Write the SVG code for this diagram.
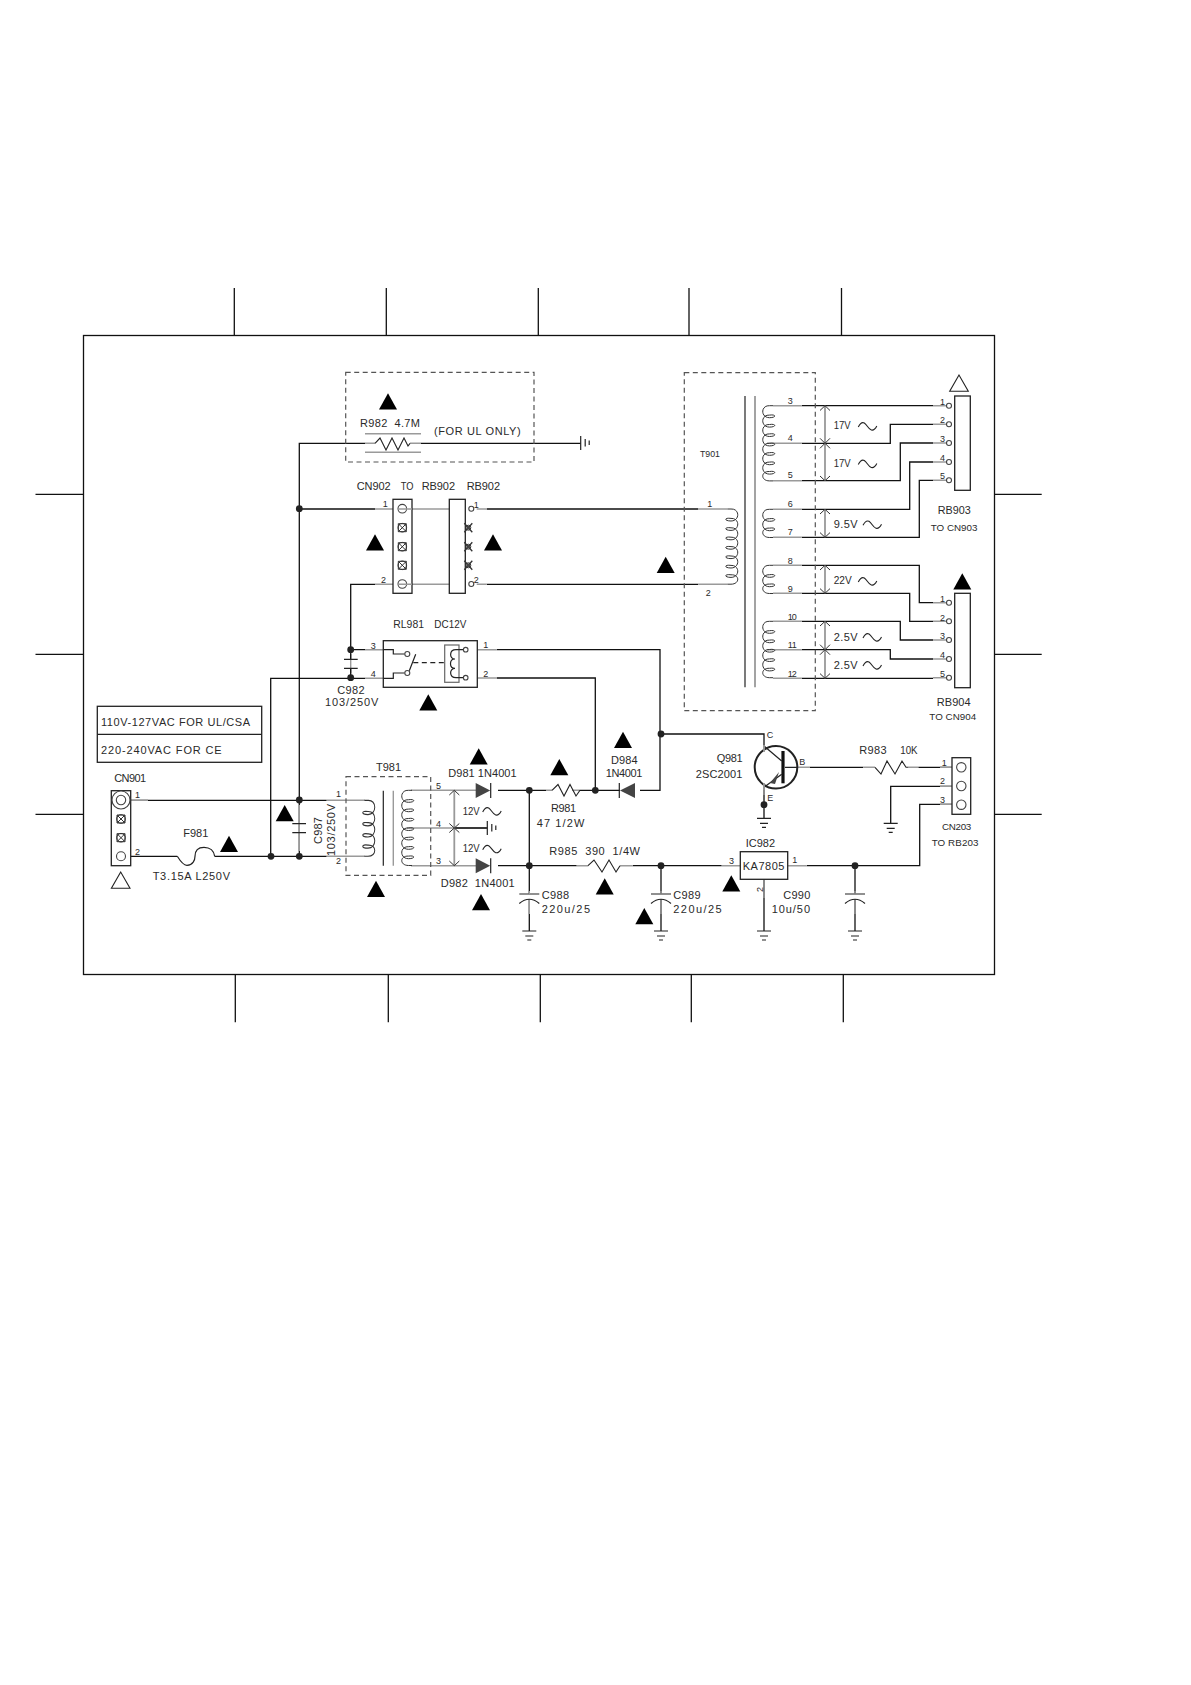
<svg xmlns="http://www.w3.org/2000/svg" width="1191" height="1685" viewBox="0 0 1191 1685">
<style>
text{font-family:"Liberation Sans",Arial,sans-serif;font-size:11px;fill:#2a2a2a;white-space:pre}
.s{font-size:9px}
.m{font-size:9.8px}
.w{fill:none;stroke:#111;stroke-width:1.3}
.g{fill:none;stroke:#9a9a9a;stroke-width:1.4}
.v{fill:none;stroke:#999;stroke-width:1.8}
.d{fill:none;stroke:#555;stroke-width:1.2;stroke-dasharray:5 3.5}
.b{fill:#fff;stroke:#222;stroke-width:1.3}
.n{fill:none;stroke:#222;stroke-width:1.2}
.c{fill:none;stroke:#333;stroke-width:1}
.x{fill:#fff;stroke:#444;stroke-width:1.1}
.j{fill:#222}
.tri{fill:#000}
.o{fill:none;stroke:#222;stroke-width:1.1}
</style>
<defs>
<polygon id="tri" class="tri" points="0,0 -9,16.3 9,16.3"/>
<polygon id="tro" fill="#fff" stroke="#222" stroke-width="1.1" points="0,0 -9.3,16.3 9.3,16.3"/>
<circle id="j" class="j" r="3.4"/>
<g id="gnd" class="n"><path d="M-7 0H7M-4 5H4M-2 9H2"/></g>
<g id="gr" class="n"><path d="M0 -7V7M4.5 -4V3.5M8.5 -2.5V2"/></g>
<path id="ac" class="o" d="M0 2C2 -2 4 -3 6 -2C9 0 10 4 13 5C15 5.500 17 4 18.500 1"/>
<g id="crs"><circle class="c" r="4.300"/><path class="c" d="M-3.800 -3.800L3.800 3.800M3.800 -3.800L-3.800 3.800M-4 -4H4V4H-4Z"/></g>
<g id="sx"><circle class="c" r="2.500"/><path d="M-4 -4.500L4 4.500M4 -4.500L-4 4.500" fill="none" stroke="#333" stroke-width="1.300"/><circle r="1.800" fill="#444"/></g>
<circle id="pin" class="x" r="2.500"/>
<polygon id="dio" fill="#444" points="0,-7.500 0,7.500 14.500,0"/>
<g id="cap"><path class="w" d="M0 5V37"/><path class="g" d="M0 5V20"/><path class="n" d="M-10 0H10M-10 9.500Q0 1 10 9.500"/><path class="g" d="M0 0V-3"/><use href="#gnd" y="37"/></g>
<path id="c3" class="c" d="M5.500 0H2c-9,-.5 -9,12 0,12c7,0 7,-3.600 0,-2.600c-9,-.5 -9,12 0,12c7,0 7,-3.600 0,-2.600c-9,-.5 -9,9.400 0,9.400h3.500"/>
<path id="c5" class="c" d="M5.500 0H2c-9,-.5 -9,12 0,12c7,0 7,-3.600 0,-2.600c-9,-.5 -9,12 0,12c7,0 7,-3.600 0,-2.600c-9,-.5 -9,12 0,12c7,0 7,-3.600 0,-2.600c-9,-.5 -9,12 0,12c7,0 7,-3.600 0,-2.600c-9,-.5 -9,9.400 0,9.400h3.500"/>
<path id="c6" class="c" d="M5.500 0H2c-9,-.5 -9,12 0,12c7,0 7,-3.600 0,-2.600c-9,-.5 -9,12 0,12c7,0 7,-3.600 0,-2.600c-9,-.5 -9,12 0,12c7,0 7,-3.600 0,-2.600c-9,-.5 -9,12 0,12c7,0 7,-3.600 0,-2.600c-9,-.5 -9,12 0,12c7,0 7,-3.600 0,-2.600c-9,-.5 -9,9.400 0,9.400h3.500"/>
<path id="c8" class="c" d="M5.500 0H2c-9,-.5 -9,12 0,12c7,0 7,-3.600 0,-2.600c-9,-.5 -9,12 0,12c7,0 7,-3.600 0,-2.600c-9,-.5 -9,12 0,12c7,0 7,-3.600 0,-2.600c-9,-.5 -9,12 0,12c7,0 7,-3.600 0,-2.600c-9,-.5 -9,12 0,12c7,0 7,-3.600 0,-2.600c-9,-.5 -9,12 0,12c7,0 7,-3.600 0,-2.600c-9,-.5 -9,12 0,12c7,0 7,-3.600 0,-2.600c-9,-.5 -9,9.400 0,9.400h3.500"/>
</defs>

<g id="frame">
<rect x="83.500" y="335.500" width="911" height="639" fill="none" stroke="#111" stroke-width="1.300"/>
<path class="w" d="M234.300 288V335M386.300 288V335M538.300 288V335M689 288V335M841.500 288V335M235.300 974V1022.300M388.300 974V1022.300M540.300 974V1022.300M691.300 974V1022.300M843.300 974V1022.300M35.500 494.300H83M35.500 654.300H83M35.500 814.300H83M994 494.300H1041.700M994 654.300H1041.700M994 814.300H1041.700"/>
</g>

<g id="connectors">
<path class="w" d="M365 443.300H299.300V856.300M421 443.300H580.700"/>
<path class="w" d="M299.300 509H375M486.700 509H698.300M350.700 649.700V584.300H375M486.700 584.300H698.300"/>
<path class="w" d="M130.700 800.300H326.700M130.700 856.300H177.300M214.700 856.300H326.700M270.700 856.300V678.300H365"/>
<path class="w" d="M350.700 649.700H365M496.700 649.700H660V790.300H640M496.700 678H595.300V790.300M661 734H764V746"/>
<path class="w" d="M529.300 790.300V894M498 790.300H529.300H546M579.300 790.300H620M529.300 865.700H576.700M632.700 865.700H721.700M498 865.700H529.300M806.700 865.700H919.700V804.300H952M810 767.300H863.300M918.300 767.300H952M952 786.300H890.700V823.300"/>
<path class="w" d="M661 865.700V894M855 865.700V894M764 787.300V818.300M764 879.300V931"/>
<path class="w" d="M801.700 405.700H933M801.700 443.300H890.300V424.300H933M801.700 480.700H900.300V443H933M801.700 509.300H909.700V462H933M801.700 537.300H919.300V480.300H933M801.700 565.300H919.300V602.700H933M801.700 593.300H909.700V621.300H933M801.700 621.300H900.300V640H933M801.700 649.700H890.300V659H933M801.700 678.300H933"/>
<path class="g" d="M375 509H393M412 509H458.700M476.700 509H486.700M375 584.300H393M412 584.300H458.700M476.700 584.300H486.700M698.300 509H727.500M698.300 584.300H727.500M130.700 800.300H148M365 649.700H383.300M365 678.300H383.300M477.300 649.700H496.700M477.300 678H496.700M326.700 800.300H365M326.700 856.300H365M350.700 654V673M299.300 805V851M764 746V752M764 783V795M785 767.300H810M863.300 767.300H875M908.300 767.300H918.300M940 767.300H952M940 786.300H952M940 804.300H952M576.700 865.700H588.300M620 865.700H632.700M721.700 865.700H740M787.700 865.700H806.700M764 879.300H764V898M365 443.300H375M410 443.300H421M546 790.300H552M572 790.300H579.300"/>
<path class="g" d="M773 405.700H801.700M767 443.300H801.700M773 480.700H801.700M773 509.300H801.700M773 537.300H801.700M773 565.300H801.700M773 593.300H801.700M773 621.300H801.700M767 649.700H801.700M773 678.300H801.700M933 405.700H946.500M933 424.300H946.500M933 443H946.500M933 462H946.500M933 480.300H946.500M933 602.700H946.500M933 621.300H946.500M933 640H946.500M933 659H946.500M933 677.700H946.500"/>
<path class="g" d="M411 790.300H476M411 865.700H476M407 828H486.700"/>
<path class="w" d="M454.300 828H487.300"/>
<path class="w" d="M350.700 659V649.700M350.700 668.300V678"/>
</g>

<g id="R982">
<rect class="d" x="345.700" y="372.300" width="188.300" height="89.700"/>
<use href="#tri" x="388" y="393.300"/>
<text x="360" y="427" textLength="60">R982  4.7M</text>
<text x="434" y="434.700" textLength="86.700">(FOR UL ONLY)</text>
<path class="g" d="M365 433.700H421M365 452.300H421"/>
<path class="o" d="M375 443.300L380 438L386 450L392 438L398 450L404 438L408 446L410 443.300"/>
<use href="#gr" x="580.700" y="443"/>
</g>

<g id="CN902">
<text x="356.700" y="490" textLength="34">CN902</text>
<text x="400.700" y="490" textLength="12.700" lengthAdjust="spacingAndGlyphs">TO</text>
<text x="421.700" y="490" textLength="33.300">RB902</text>
<rect class="b" x="393" y="499.300" width="19" height="94"/>
<circle class="x" cx="402.300" cy="508.700" r="4.300"/>
<use href="#crs" x="402.300" y="527.700"/><use href="#crs" x="402.300" y="546.700"/><use href="#crs" x="402.300" y="565.300"/>
<circle class="x" cx="402.300" cy="584" r="4.300"/>
<path class="g" d="M398 509H412M398 584.300H412"/>
<text class="s" x="382.700" y="507">1</text>
<text class="s" x="381" y="582.700">2</text>
<use href="#tri" x="375" y="534.300"/>
</g>

<g id="RB902">
<text x="466.700" y="490" textLength="33.300">RB902</text>
<rect class="b" x="449.300" y="499.300" width="16" height="94"/>
<use href="#pin" x="471.300" y="508.700"/><use href="#pin" x="471.300" y="584"/>
<use href="#sx" x="468.300" y="527.700"/><use href="#sx" x="468.300" y="546.700"/><use href="#sx" x="468.300" y="565.300"/>
<text class="s" x="473.700" y="508">1</text>
<text class="s" x="473.700" y="582.700">2</text>
<use href="#tri" x="493" y="534.300"/>
</g>

<g id="T901">
<rect class="d" x="684.300" y="372.700" width="131" height="338"/>
<text class="m" x="700" y="456.700" textLength="20" lengthAdjust="spacingAndGlyphs">T901</text>
<path class="n" d="M745 396V687.300"/><path class="v" d="M755 396V687.300"/>
<use href="#tri" x="665.700" y="556.700"/>
<use href="#c8" transform="translate(733 509) scale(-1 1)"/>
<use href="#c8" x="767.500" y="405.700"/>
<use href="#c3" x="767.500" y="509.300"/><use href="#c3" x="767.500" y="565.300"/>
<use href="#c6" x="767.500" y="621.300"/>
<text class="s" x="707.300" y="507.300">1</text><text class="s" x="705.700" y="595.700">2</text>
<text class="s" x="787.700" y="403.700">3</text><text class="s" x="787.700" y="441">4</text><text class="s" x="787.700" y="478.300">5</text><text class="s" x="787.700" y="507.300">6</text><text class="s" x="787.700" y="535.300">7</text><text class="s" x="787.700" y="563.700">8</text><text class="s" x="787.700" y="591.700">9</text><text class="s" x="787.700" y="620" textLength="9">10</text><text class="s" x="787.700" y="648" textLength="9">11</text><text class="s" x="787.700" y="676.700" textLength="9">12</text>
<path class="v" d="M825 405.700V480.700M825 509.300V537.300M825 565.300V593.300M825 621.300V678.300"/>
<path class="c" d="M820 410.500L825 405.700L830 410.500M820 438.300L830 448.300M830 438.300L820 448.300M820 476L825 480.700L830 476M820 514L825 509.300L830 514M820 532.600L825 537.300L830 532.600M820 570L825 565.300L830 570M820 588.600L825 593.300L830 588.600M820 626L825 621.300L830 626M820 644.700L830 654.700M830 644.700L820 654.700M820 673.600L825 678.300L830 673.600"/>
<text x="833.700" y="429.300" textLength="17" lengthAdjust="spacingAndGlyphs">17V</text><use href="#ac" x="858.300" y="425"/>
<text x="833.700" y="466.700" textLength="17" lengthAdjust="spacingAndGlyphs">17V</text><use href="#ac" x="858.300" y="462.500"/>
<text x="833.700" y="528.300" textLength="24">9.5V</text><use href="#ac" x="863" y="523.300"/>
<text x="833.700" y="584.300" textLength="18" lengthAdjust="spacingAndGlyphs">22V</text><use href="#ac" x="858.300" y="580"/>
<text x="833.700" y="641" textLength="24">2.5V</text><use href="#ac" x="863" y="636"/>
<text x="833.700" y="669" textLength="24">2.5V</text><use href="#ac" x="863" y="664"/>
</g>

<g id="RB903">
<use href="#tro" x="959" y="375"/>
<rect class="b" x="954.700" y="396" width="15.600" height="94.300"/>
<use href="#pin" x="949" y="405.700"/><use href="#pin" x="949" y="424.300"/><use href="#pin" x="949" y="443"/><use href="#pin" x="949" y="462"/><use href="#pin" x="949" y="480.300"/>
<text class="s" x="940" y="405">1</text><text class="s" x="940" y="423.300">2</text><text class="s" x="940" y="442">3</text><text class="s" x="940" y="460.700">4</text><text class="s" x="940" y="479.300">5</text>
<text x="937.700" y="514" textLength="33" lengthAdjust="spacingAndGlyphs">RB903</text>
<text class="m" x="930.700" y="531" textLength="46.700">TO CN903</text>
</g>

<g id="RB904">
<use href="#tri" x="962.300" y="573.300"/>
<rect class="b" x="954.700" y="593.300" width="15.600" height="94.400"/>
<use href="#pin" x="949" y="602.700"/><use href="#pin" x="949" y="621.300"/><use href="#pin" x="949" y="640"/><use href="#pin" x="949" y="659"/><use href="#pin" x="949" y="677.700"/>
<text class="s" x="940" y="601.700">1</text><text class="s" x="940" y="620.700">2</text><text class="s" x="940" y="639.300">3</text><text class="s" x="940" y="658.300">4</text><text class="s" x="940" y="676.700">5</text>
<text x="936.700" y="705.700" textLength="34">RB904</text>
<text class="m" x="929.300" y="720" textLength="47">TO CN904</text>
</g>

<g id="RL981">
<text x="393.300" y="628.300" textLength="30.700" lengthAdjust="spacingAndGlyphs">RL981</text>
<text x="434.300" y="628.300" textLength="32" lengthAdjust="spacingAndGlyphs">DC12V</text>
<rect class="b" x="383.300" y="640.700" width="94" height="46.600"/>
<path class="n" d="M383.300 649.700H393.300V654H404.700M383.300 678.300H393.300V673H404.700M409.300 670.700L415.700 654.300"/>
<circle class="x" cx="407.300" cy="654" r="2.500"/><circle class="x" cx="407.300" cy="673" r="2.500"/>
<path class="n" stroke-dasharray="5 3.500" d="M413.300 662.700H445"/>
<rect x="444.700" y="645" width="14.300" height="37.300" fill="none" stroke="#666" stroke-width="1.200"/>
<path class="n" d="M463.200 649.700H456C449 649.700 449 659 455 659C449 659 449 668.400 455 668.400C449 668.400 449 677.700 456 677.700H463.200"/>
<circle class="x" cx="465.700" cy="649.700" r="2.300"/><circle class="x" cx="465.700" cy="677.700" r="2.300"/>
<text class="s" x="370.700" y="648.700">3</text><text class="s" x="370.700" y="676.700">4</text>
<text class="s" x="483.300" y="648.300">1</text><text class="s" x="483.300" y="676.700">2</text>
<use href="#tri" x="428.300" y="694.300"/>
</g>

<g id="C982">
<path class="n" d="M344 659.300H357.700M344 668.300H357.700"/>
<use href="#j" x="350.700" y="649.700"/><use href="#j" x="350.700" y="677.700"/>
<text x="337.300" y="694" textLength="27.300">C982</text>
<text x="325" y="706" textLength="53.300">103/250V</text>
</g>

<g id="legend">
<rect class="b" x="97.300" y="706.300" width="164.400" height="56"/>
<path class="n" d="M97.300 734.300H261.700"/>
<text x="101" y="725.700" textLength="149">110V-127VAC FOR UL/CSA</text>
<text x="101" y="754" textLength="120.700">220-240VAC FOR CE</text>
</g>

<g id="CN901">
<text x="114.300" y="782.300" textLength="31.700">CN901</text>
<rect class="b" x="111.300" y="790.700" width="19.400" height="75"/>
<circle class="x" cx="121" cy="800" r="9"/><circle class="x" cx="121" cy="800" r="4.700"/>
<use href="#crs" x="121" y="819"/><use href="#crs" x="121" y="837.700"/>
<circle class="x" cx="121" cy="856.300" r="4.500"/>
<use href="#tro" x="120.700" y="872"/>
<text class="s" x="135" y="798.300">1</text><text class="s" x="135" y="854.700">2</text>
</g>

<g id="F981">
<path class="n" d="M177.300 856.300Q183 865.500 187 865.300C193 865 195 860 195 856.300C195 850 199 847.300 204 847.300C210 847.300 214 851 214.700 856.300"/>
<text x="183.300" y="836.700" textLength="25">F981</text>
<text x="152.700" y="880" textLength="77.300">T3.15A L250V</text>
<use href="#tri" x="229" y="835.700"/>
</g>

<g id="C987">
<path class="n" d="M292.300 823.700H306M292.300 832.700H306"/>
<use href="#j" x="271" y="856.300"/><use href="#j" x="299.300" y="856.300"/><use href="#j" x="299.300" y="800"/><use href="#j" x="299.300" y="508.700"/>
<use href="#tri" x="284.700" y="805"/>
<text transform="translate(322 844) rotate(-90)" textLength="27">C987</text>
<text transform="translate(335 856) rotate(-90)" textLength="52">103/250V</text>
</g>

<g id="T981">
<rect class="d" x="346" y="776.700" width="84.700" height="98.600"/>
<text x="376" y="771.300" textLength="25">T981</text>
<path class="n" d="M383.300 790.700V865.700"/><path class="g" d="M393.300 790.700V865.700"/>
<use href="#c5" transform="translate(370 800.300) scale(-1 1.191)"/>
<use href="#c8" x="406.500" y="790.300"/>
<text class="s" x="336" y="796.700">1</text><text class="s" x="336" y="864">2</text>
<text class="s" x="436" y="789">5</text><text class="s" x="436" y="826.700">4</text><text class="s" x="436" y="864">3</text>
<path class="v" d="M454.300 790.300V865.700"/>
<path class="c" d="M449.300 795L454.300 790.300L459.300 795M449.300 823.500L454.300 828L459.300 823.500M449.300 832.500L454.300 828L459.300 832.500M449.300 861L454.300 865.700L459.300 861"/>
<text x="462.700" y="814.700" textLength="17" lengthAdjust="spacingAndGlyphs">12V</text><use href="#ac" x="482.700" y="810"/>
<text x="462.700" y="852.300" textLength="17" lengthAdjust="spacingAndGlyphs">12V</text><use href="#ac" x="482.700" y="847.700"/>
<use href="#gr" x="487.300" y="828"/>
<use href="#tri" x="376" y="880.700"/>
</g>

<g id="D981">
<use href="#dio" x="475.700" y="790.500"/><path class="n" d="M490.700 783V798"/>
<text x="448.300" y="776.700" textLength="68.300">D981 1N4001</text>
<use href="#tri" x="478.700" y="748.300"/>
</g>
<g id="D982">
<use href="#dio" x="475.700" y="865.700"/><path class="n" d="M490.700 858.200V873.200"/>
<text x="440.700" y="886.700" textLength="74">D982  1N4001</text>
<use href="#tri" x="481" y="894"/>
</g>

<g id="R981">
<path class="o" d="M552 790.300L558 784.500L564 796L570 784.500L576 796L580 790.300"/>
<use href="#j" x="529.300" y="790.300"/><use href="#j" x="595.300" y="790.300"/>
<text x="551" y="811.700" textLength="25">R981</text>
<text x="536.700" y="826.700" textLength="47.600">47 1/2W</text>
<use href="#tri" x="559.300" y="759"/>
</g>

<g id="D984">
<polygon fill="#444" points="635,783 635,798 620,790.500"/><path class="n" d="M619.300 783V798"/>
<use href="#j" x="661" y="734"/>
<text x="611" y="764" textLength="26.700">D984</text>
<text x="605.700" y="777.300" textLength="36.700">1N4001</text>
<use href="#tri" x="623" y="731.700"/>
</g>

<g id="Q981">
<circle cx="776" cy="767.300" r="21.300" fill="#fff" stroke="#222" stroke-width="2"/>
<path d="M783 751V783.300" fill="none" stroke="#111" stroke-width="3.200"/>
<path class="n" d="M764 746L781.700 761M785 767.300H797"/>
<path class="n" d="M764 787.300L781.700 774.300"/>
<polygon fill="#444" points="770,783 779,772 775,784"/>
<path class="v" d="M764 745V752M764 783V790"/>
<use href="#j" x="764" y="804.700"/>
<use href="#gnd" x="764" y="818.300"/>
<text class="s" x="766.700" y="738.300">C</text><text class="s" x="799.300" y="764.700">B</text><text class="s" x="767.300" y="801">E</text>
<text x="716.700" y="762" textLength="26">Q981</text>
<text x="695.700" y="778.300" textLength="46.700">2SC2001</text>
</g>

<g id="R983">
<path class="o" d="M875 767.300L881 774L887 761L895 774L902 761L906 767.300H908.300"/>
<text x="859.300" y="754.300" textLength="27.300">R983</text>
<text x="900.300" y="754.300" textLength="17.300" lengthAdjust="spacingAndGlyphs">10K</text>
</g>

<g id="CN203">
<rect class="b" x="952" y="757.700" width="18.700" height="56.600"/>
<circle class="x" cx="961.300" cy="767.300" r="4.700"/><circle class="x" cx="961.300" cy="786" r="4.700"/><circle class="x" cx="961.300" cy="804.700" r="4.700"/>
<text class="s" x="941.700" y="765.700">1</text><text class="s" x="940" y="784.300">2</text><text class="s" x="940" y="802.700">3</text>
<use href="#gnd" x="890.700" y="823.300"/>
<text class="m" x="942" y="830" textLength="29.300">CN203</text>
<text class="m" x="931.700" y="846" textLength="46.700">TO RB203</text>
</g>

<g id="R985">
<path class="o" d="M588 865.700L594 860L602 872L609 860L616 872L620 865.700"/>
<text x="549.300" y="855" textLength="90.700">R985  390  1/4W</text>
<use href="#tri" x="604.700" y="878.300"/>
</g>

<g id="C988">
<use href="#j" x="529.300" y="865.700"/>
<use href="#cap" x="529.300" y="894"/>
<text x="541.700" y="899.300" textLength="27.300">C988</text>
<text x="541.700" y="912.700" textLength="48.300">220u/25</text>
</g>

<g id="C989">
<use href="#j" x="661" y="865.700"/>
<use href="#cap" x="661" y="894"/>
<text x="673.300" y="899.300" textLength="27.300">C989</text>
<text x="673.300" y="912.700" textLength="48.300">220u/25</text>
<use href="#tri" x="644.300" y="908"/>
</g>

<g id="IC982">
<rect class="b" x="740.300" y="851.700" width="47.400" height="27.600"/>
<text x="745.700" y="847.300" textLength="29.300">IC982</text>
<text x="742.700" y="870" textLength="41.700">KA7805</text>
<text class="s" x="729" y="864">3</text><text class="s" x="792.300" y="863.300">1</text>
<text class="s" transform="translate(762.700 892) rotate(-90)">2</text>
<use href="#gnd" x="764" y="931"/>
<use href="#tri" x="731.300" y="875.300"/>
</g>

<g id="C990">
<use href="#j" x="855" y="865.700"/>
<use href="#cap" x="855" y="894"/>
<text x="783.300" y="899.300" textLength="27">C990</text>
<text x="771.700" y="912.700" textLength="38.300">10u/50</text>
</g>
</svg>
